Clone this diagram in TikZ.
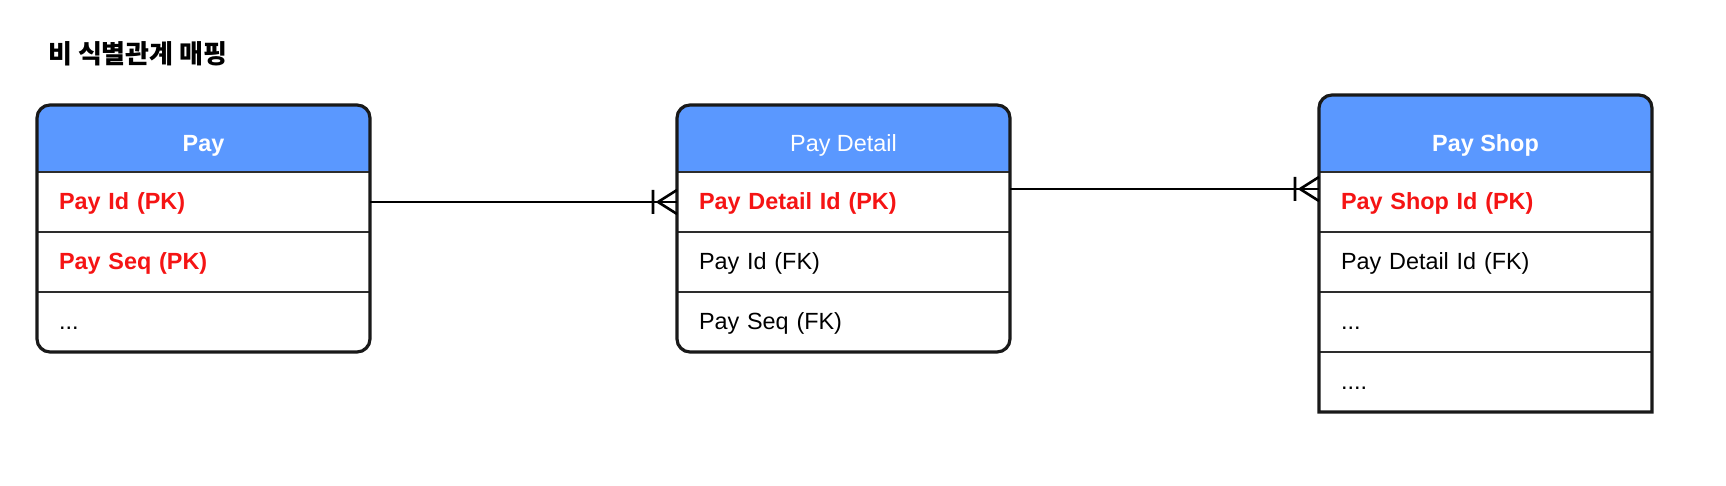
\documentclass[tikz,border=0pt]{standalone}
\usepackage{fontspec}
\setmainfont{Liberation Sans}
\newfontfamily\krfont{Noto Sans CJK KR}
\usetikzlibrary{positioning,backgrounds}

\definecolor{hdrblue}{RGB}{90,152,255}
\definecolor{pkred}{RGB}{245,20,20}
\definecolor{edgegray}{RGB}{45,45,45}

% crow's foot (one or many) ending at #1, coming from the left
\newcommand{\manyend}[1]{%
  \draw[rel] ([xshift=-9.5pt]#1) -- ([yshift=6pt]#1)
             ([xshift=-9.5pt]#1) -- ([yshift=-6pt]#1)
             ([xshift=-12pt,yshift=6pt]#1) -- ([xshift=-12pt,yshift=-6pt]#1);}

\begin{document}
\fontsize{11.7}{14}\selectfont
\begin{tikzpicture}[x=0.5pt,y=-0.5pt,
  hdr/.style={anchor=north west, minimum width=166.5pt, inner ysep=0pt, text depth=10pt, text=white, font=\bfseries, outer sep=0pt},
  row/.style={draw=edgegray, line width=1.4pt, minimum width=166.5pt, minimum height=30pt, text width=144.5pt, inner xsep=11pt, text height=9.5pt, text depth=2pt, align=left, outer sep=0pt},
  lastrow/.style={row, draw=none},
  pk/.style={text=pkred, font=\bfseries},
  frame/.style={draw=black!90, line width=1.6pt},
  rel/.style={line width=1.3pt}]
	\useasboundingbox (0,0) rectangle (1726,486);
	\node[anchor=west, font=\krfont\bfseries\fontsize{13}{16}\selectfont] (title) at (40,54) {비 식별관계 매핑};

	\node[hdr, text height=23.5pt] (pay) at (37,105) {Pay};
	\node[row, pk] (pay-id) [below = 0pt of pay] {Pay Id (PK)};
	\node[row, pk] (pay-seq) [below = 0pt of pay-id] {Pay Seq (PK)};
	\node[lastrow] (pay-etc) [below = 0pt of pay-seq] {...};

	\node[hdr, text height=23.5pt, font=\mdseries] (det) at (677,105) {Pay Detail};
	\node[row, pk] (det-id) [below = 0pt of det] {Pay Detail Id (PK)};
	\node[row] (det-pay) [below = 0pt of det-id] {Pay Id (FK)};
	\node[lastrow] (det-seq) [below = 0pt of det-pay] {Pay Seq (FK)};

	\node[hdr, text height=28.5pt] (shop) at (1319,95) {Pay Shop};
	\node[row, pk] (shop-id) [below = 0pt of shop] {Pay Shop Id (PK)};
	\node[row] (shop-det) [below = 0pt of shop-id] {Pay Detail Id (FK)};
	\node[row] (shop-etc) [below = 0pt of shop-det] {...};
	\node[row] (shop-etc2) [below = 0pt of shop-etc] {....};

	\begin{scope}[on background layer]
		\foreach \t in {pay,det,shop}
			\fill[hdrblue] (\t.south west) [rounded corners=6.5pt] -- (\t.north west) -- (\t.north east) [sharp corners] -- (\t.south east) -- cycle;
	\end{scope}

	\draw[frame, rounded corners=6.5pt] (pay.north west) rectangle (pay-etc.south east);
	\draw[frame, rounded corners=6.5pt] (det.north west) rectangle (det-seq.south east);
	\draw[frame] (shop-etc2.south west) [rounded corners=6.5pt] -- (shop.north west) -- (shop.north east) [sharp corners] -- (shop-etc2.south east) -- cycle;

	\draw[rel] (pay-id.east) -- (det-id.west);
	\manyend{det-id.west}
	\coordinate (det-out) at ([yshift=6.5pt]det-id.east);
	\coordinate (shop-in) at ([yshift=6.5pt]shop-id.west);
	\draw[rel] (det-out) -- (shop-in);
	\manyend{shop-in}
\end{tikzpicture}
\end{document}
